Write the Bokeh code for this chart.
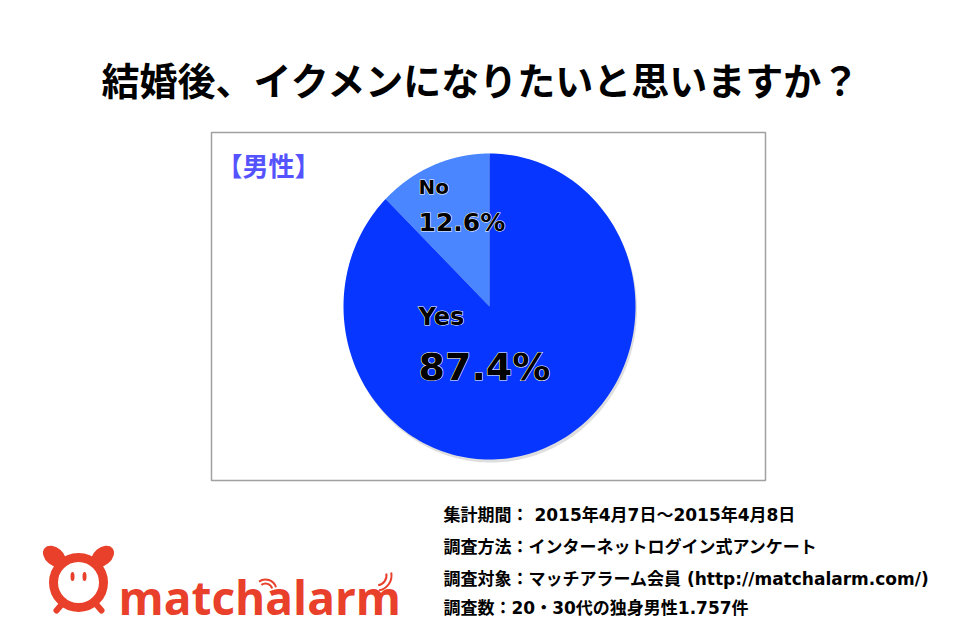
import numpy as np
from bokeh.plotting import figure
from bokeh.models import Range1d, ColumnDataSource
from bokeh.core.properties import value
from bokeh.embed import file_html
from bokeh.resources import INLINE

# ---- data ----
title_text = "結婚後、イクメンになりたいと思いますか？"
group_label = "【男性】"
labels = ["No", "Yes"]
shares = [12.6, 87.4]
colors = ["#4a86ff", "#0636ff"]
notes = [
    "集計期間： 2015年4月7日～2015年4月8日",
    "調査方法：インターネットログイン式アンケート",
    "調査対象：マッチアラーム会員 (http://matchalarm.com/)",
    "調査数：20・30代の独身男性1.757件",
]
brand = "matchalarm"

W, H = 958, 636
p = figure(width=W, height=H, x_range=Range1d(0, W), y_range=Range1d(H, 0),
           output_backend="svg", toolbar_location=None, min_border=0,
           outline_line_color=None, background_fill_color="white", border_fill_color="white")
p.axis.visible = False
p.grid.visible = False

# title
p.text(x=[481], y=[78], text=[title_text], text_align="center", text_baseline="middle",
       text_font=value("Noto Sans CJK JP"), text_font_style="bold", text_font_size="38px",
       text_color="black")

# frame
p.quad(left=[211], right=[765], top=[132], bottom=[480], fill_color="white",
       line_color="#a0a0a0", line_width=1.5)

p.text(x=[216], y=[164], text=[group_label], text_align="left", text_baseline="middle",
       text_font=value("Noto Sans CJK JP"), text_font_style="bold", text_font_size="26px",
       text_color="#5552ff")

# pie (slightly elliptical, as drawn)
cx, cy, rx, ry = 489, 306, 146, 153
fr = np.array(shares) / sum(shares)
starts = np.pi / 2 + 2 * np.pi * np.concatenate([[0], np.cumsum(fr)[:-1]])
ends = starts + 2 * np.pi * fr
xs, ys = [], []
for a0, a1 in zip(starts, ends):
    t = np.linspace(a0, a1, 200)
    xs.append(np.concatenate([[cx], cx + rx * np.cos(t), [cx]]))
    ys.append(np.concatenate([[cy], cy - ry * np.sin(t), [cy]]))
# soft shadow
t = np.linspace(0, 2 * np.pi, 300)
p.patch(cx + 1.5 + rx * np.cos(t), cy + 3 + ry * np.sin(t), fill_color="#c8c8c8",
        fill_alpha=0.6, line_color=None)
p.patches(xs=xs, ys=ys, fill_color=colors, line_color=None)

# labels: white halo layer, then solid black text
lab_src = ColumnDataSource(dict(
    x=[418, 418, 418, 418],
    y=[186, 222, 316, 366],
    t=[labels[0], f"{shares[0]:.1f}%", labels[1], f"{shares[1]:.1f}%"],
    s=["20px", "25px", "24px", "38px"],
))
p.text(x="x", y="y", text="t", source=lab_src, text_font_size="s", text_align="left",
       text_baseline="middle", text_font=value("DejaVu Sans"), text_font_style="bold",
       text_color="white", text_outline_color="white")
p.text(x="x", y="y", text="t", source=lab_src, text_font_size="s", text_align="left",
       text_baseline="middle", text_font=value("DejaVu Sans"), text_font_style="bold",
       text_color="black")

# notes
for i, line in enumerate(notes):
    p.text(x=[443], y=[[514, 546, 578, 607][i]], text=[line], text_align="left",
           text_baseline="middle", text_font=value("DejaVu Sans, Noto Sans CJK JP"),
           text_font_style="bold", text_font_size="17px", text_color="black")

# logo
red = "#e8402a"
p.ellipse(x=[54, 102], y=[556, 556], width=[26, 26], height=[18, 18],
          angle=[-0.7, 0.7], fill_color=red, line_color=None)
p.circle(x=[78], y=[582], radius=25, fill_color="white", line_color=red, line_width=9)
p.ellipse(x=[72, 84], y=[576, 576], width=[4, 4], height=[9, 9], fill_color=red, line_color=None)
p.segment(x0=[62, 95], y0=[603, 603], x1=[56, 101], y1=[610, 610], line_color=red,
          line_width=6, line_cap="round")
p.text(x=[118], y=[596], text=[brand], text_align="left", text_baseline="alphabetic",
       text_font=value("Open Sans"), text_font_style="bold", text_font_size="46px",
       text_color=red)
p.arc(x=[265, 265], y=[590, 590], radius=[7, 11], start_angle=[0.3, 0.3],
      end_angle=[2.2, 2.2], line_color=red, line_width=2)
p.arc(x=[376, 376], y=[575, 575], radius=[10, 15], start_angle=[-1.4, -1.4],
      end_angle=[0.2, 0.2], line_color=red, line_width=2)

open("out.html", "w").write(file_html(p, INLINE))
